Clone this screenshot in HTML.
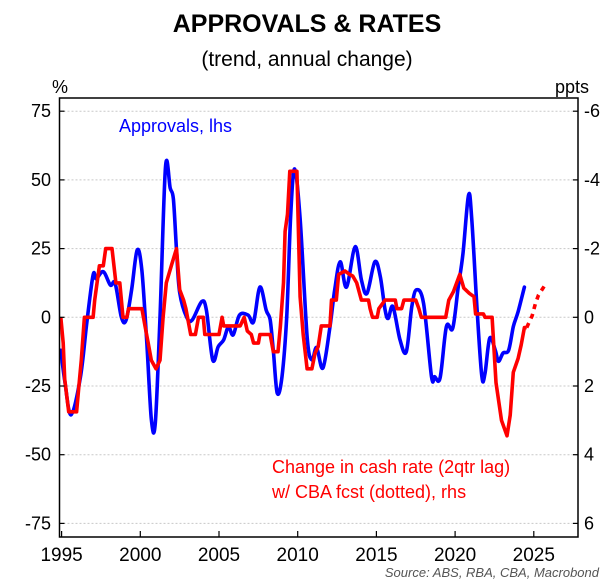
<!DOCTYPE html>
<html><head><meta charset="utf-8"><style>
html,body{margin:0;padding:0;background:#fff;}
svg{display:block;font-family:"Liberation Sans",Arial,sans-serif;}
</style></head><body>
<svg id="chart" width="615" height="588" viewBox="0 0 615 588">
<text x="307" y="32" text-anchor="middle" font-size="25" font-weight="bold" fill="#000">APPROVALS &amp; RATES</text>
<text x="307" y="66" text-anchor="middle" font-size="21" fill="#000">(trend, annual change)</text>
<text x="60" y="93" text-anchor="middle" font-size="18" fill="#000">%</text>
<text x="572" y="93" text-anchor="middle" font-size="18" fill="#000">ppts</text>
<g id="grid"></g>
<g id="series"></g>
<rect x="59.5" y="98" width="518.5" height="439" fill="none" stroke="#000" stroke-width="1.5"/>
<g id="axes"></g>
<text x="119" y="132" font-size="18" fill="#0000ff">Approvals, lhs</text>
<text x="272" y="473" font-size="18" fill="#ff0000">Change in cash rate (2qtr lag)</text>
<text x="272" y="498" font-size="18" fill="#ff0000">w/ CBA fcst (dotted), rhs</text>
<text x="599" y="577" text-anchor="end" font-size="13" font-style="italic" fill="#555">Source: ABS, RBA, CBA, Macrobond</text>
</svg>
<script>
const lhsTicks = [75, 50, 25, 0, -25, -50, -75];
const rhsTicks = [-6, -4, -2, 0, 2, 4, 6];
const xTicks = [1995, 2000, 2005, 2010, 2015, 2020, 2025];
const blueYears = [1994.95,1995.2,1995.6,1996.2,1996.6,1997.0,1997.2,1997.65,1998.1,1998.4,1998.8,1999.1,1999.45,1999.8,2000.1,2000.4,2000.7,2000.95,2001.25,2001.6,2001.9,2002.1,2002.3,2002.5,2002.95,2003.3,2003.9,2004.2,2004.6,2004.95,2005.3,2005.6,2005.9,2006.3,2006.85,2007.2,2007.6,2008.0,2008.25,2008.45,2008.7,2009.0,2009.3,2009.55,2009.8,2010.15,2010.6,2010.9,2011.2,2011.6,2012.05,2012.35,2012.7,2013.1,2013.65,2014.05,2014.4,2014.9,2015.25,2015.55,2015.75,2016.05,2016.5,2016.9,2017.25,2017.55,2018.0,2018.5,2018.7,2019.05,2019.45,2019.85,2020.2,2020.5,2020.85,2021.05,2021.4,2021.7,2021.9,2022.2,2022.55,2022.75,2023.05,2023.4,2023.7,2024.0,2024.4];
const blueValues = [-12,-23,-35.5,-21.6,-2,15.4,14,16.6,11.7,12.4,0,-1,10,24.5,17,-8,-37,-38.5,0,54.7,47,43,24.5,9,0,-1,5.7,2.6,-15.5,-10.7,-8.2,-3.4,-6.4,0.8,0.8,-1.6,11,2.6,-1,-12,-27.6,-21.6,0,36.5,54,36,-7,-15.5,-11,-18.5,-3.4,10,20.2,11,25.7,13.6,8.7,20.2,14.8,2.7,-0.4,3.9,-8.2,-12.5,3.9,10,5,-21.6,-21.6,-22,-3.4,-4,11,23.3,44.4,36.5,2.7,-21.6,-20.4,-7.6,-11.9,-16,-13,-12,-3.4,2,11];
const redYears = [1994.95,1995.1,1995.2,1995.45,1995.95,1996.1,1996.25,1996.45,1997.0,1997.1,1997.4,1997.65,1997.8,1998.2,1998.45,1998.7,1998.9,1999.15,1999.25,2000.1,2000.3,2000.5,2000.7,2001.0,2001.25,2001.45,2001.65,2002.0,2002.3,2002.5,2002.75,2002.9,2003.1,2003.2,2003.5,2003.7,2004.0,2004.1,2005.0,2005.2,2005.3,2006.35,2006.6,2006.8,2007.05,2007.2,2007.5,2007.6,2008.25,2008.45,2008.75,2008.9,2009.1,2009.2,2009.35,2009.5,2009.95,2010.15,2010.35,2010.6,2010.9,2011.1,2011.3,2011.5,2012.05,2012.15,2012.45,2012.6,2013.0,2013.3,2013.5,2013.75,2014.05,2014.5,2014.6,2014.75,2015.05,2015.15,2015.55,2016.2,2016.3,2016.6,2016.75,2017.5,2017.7,2017.85,2019.4,2019.6,2019.9,2020.3,2020.55,2020.9,2021.2,2021.3,2021.8,2021.9,2022.35,2022.6,2022.95,2023.3,2023.5,2023.7,2024.0,2024.2,2024.4,2024.55];
const redValues = [0,0.75,1.8,2.75,2.75,2.0,1.25,0,0,-0.5,-1.5,-1.5,-2.0,-2.0,-1.0,-1.0,0,0,-0.25,-0.25,0.25,0.75,1.25,1.5,1.25,0,-1.0,-1.55,-2.0,-0.8,-0.5,-0.25,0.25,0.5,0.5,0,0,0.5,0.5,0,0.25,0.25,0,0.4,0.5,0.75,0.75,0.5,0.5,1.0,1.0,0.25,-1.0,-2.5,-3.0,-4.25,-4.25,-0.6,0.5,1.5,1.5,1.05,0.85,0.25,0.25,-0.5,-0.5,-1.25,-1.35,-1.25,-1.2,-1.0,-0.5,-0.5,-0.25,0,0,-0.25,-0.5,-0.5,-0.25,-0.25,-0.5,-0.5,-0.25,0,0,-0.5,-0.75,-1.25,-0.85,-0.7,-0.6,-0.1,-0.1,0,0,1.9,3.0,3.45,2.85,1.6,1.2,0.8,0.3,0.3];
const fcstYears = [2024.55,2024.9,2025.1,2025.3,2025.8];
const fcstValues = [0.3,-0.05,-0.4,-0.65,-1.0];

const NS = "http://www.w3.org/2000/svg";
const X0 = 59.5, X1 = 578, Y0 = 98, Y1 = 537;
function xs(yr){ return 61.6 + (yr - 1995) * 15.74; }
function yl(v){ return 317.3 - v * 2.748; }
function yr(p){ return 317.3 + p * 34.35; }
function mk(tag, attrs, parent){ const e = document.createElementNS(NS, tag); for (const k in attrs) e.setAttribute(k, attrs[k]); parent.appendChild(e); return e; }

const grid = document.getElementById('grid');
const axes = document.getElementById('axes');
const series = document.getElementById('series');

lhsTicks.forEach(v => {
  const y = yl(v);
  const g = mk('line', {x1: X0, x2: X1, y1: y, y2: y, stroke: '#c8c8c8', 'stroke-width': 1, 'stroke-dasharray': '2,2'}, grid);
  
  
  const t = mk('line', {x1: X0, x2: X0 + 5, y1: y, y2: y, stroke: '#000', 'stroke-width': 1.2}, axes);
  
  
  const lb = mk('text', {x: 51, y: y + 6, 'text-anchor': 'end', 'font-size': 18, fill: '#000'}, axes);
  lb.textContent = v;
  
  
});
rhsTicks.forEach(p => {
  const y = yr(p);
  const t = mk('line', {x1: X1 - 5, x2: X1, y1: y, y2: y, stroke: '#000', 'stroke-width': 1.2}, axes);
  
  
  const lb = mk('text', {x: 584, y: y + 6, 'font-size': 18, fill: '#000'}, axes);
  lb.textContent = p;
  
  
});
xTicks.forEach(yrv => {
  const x = xs(yrv);
  const t = mk('line', {x1: x, x2: x, y1: Y1, y2: Y1 - 6, stroke: '#000', 'stroke-width': 1.2}, axes);
  
  
  const lb = mk('text', {x: x, y: 561, 'text-anchor': 'middle', 'font-size': 19, fill: '#000'}, axes);
  lb.textContent = yrv;
  
  
});

function pathFrom(xsArr, vals, yfn){ return xsArr.map((d,i) => (i ? 'L' : 'M') + xs(d).toFixed(1) + ',' + yfn(vals[i]).toFixed(1)).join(' '); }
function smoothFrom(xsArr, vals, yfn){
  const p = xsArr.map((d,i) => [xs(d), yfn(vals[i])]);
  let s = 'M' + p[0][0].toFixed(1) + ',' + p[0][1].toFixed(1);
  for (let i = 0; i < p.length - 1; i++) {
    const a = p[Math.max(0, i-1)], b = p[i], c = p[i+1], d = p[Math.min(p.length-1, i+2)];
    const c1 = [b[0] + (c[0]-a[0])/6, b[1] + (c[1]-a[1])/6];
    const c2 = [c[0] - (d[0]-b[0])/6, c[1] - (d[1]-b[1])/6];
    s += ' C' + c1[0].toFixed(1) + ',' + c1[1].toFixed(1) + ' ' + c2[0].toFixed(1) + ',' + c2[1].toFixed(1) + ' ' + c[0].toFixed(1) + ',' + c[1].toFixed(1);
  }
  return s;
}

const bl = mk('path', {d: smoothFrom(blueYears, blueValues, yl), fill: 'none', stroke: '#0000ff', 'stroke-width': 3.6, 'stroke-linejoin': 'round', 'stroke-linecap': 'round'}, series);


const rl = mk('path', {d: pathFrom(redYears, redValues, yr), fill: 'none', stroke: '#ff0000', 'stroke-width': 3.6, 'stroke-linejoin': 'round'}, series);


const fl = mk('path', {d: pathFrom(fcstYears, fcstValues, yr), fill: 'none', stroke: '#ff0000', 'stroke-width': 3.6, 'stroke-dasharray': '5,5'}, series);


</script>
</body></html>
